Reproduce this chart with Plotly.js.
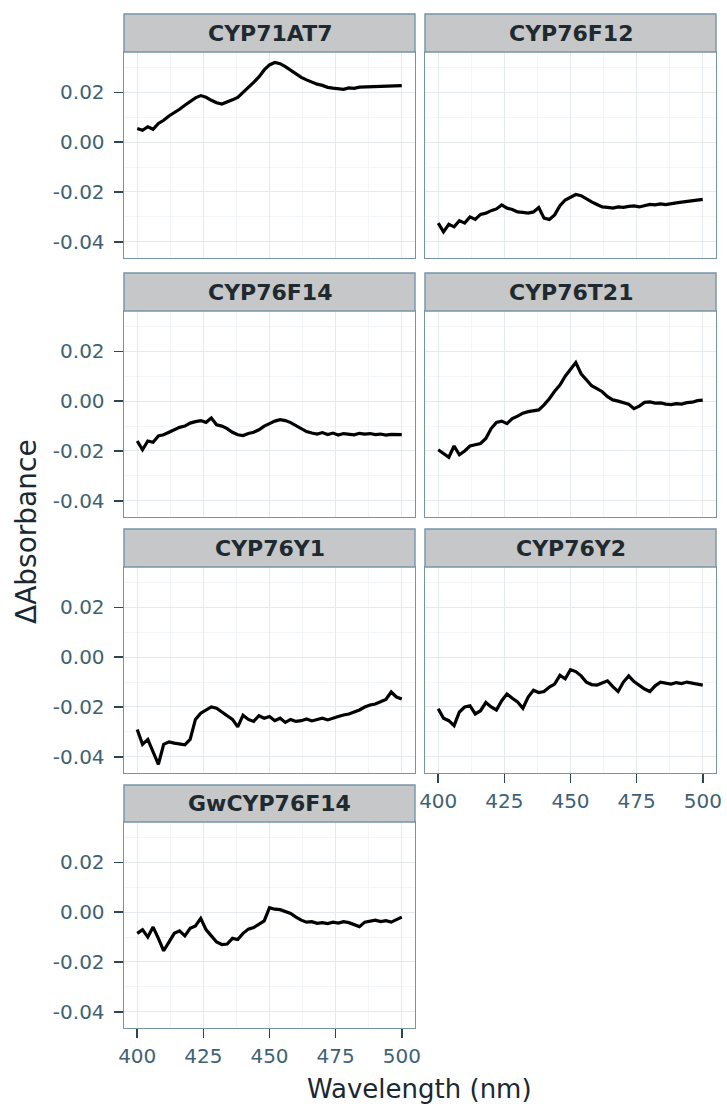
<!DOCTYPE html>
<html>
<head>
<meta charset="utf-8">
<script src="https://cdn.plot.ly/plotly-3.0.1.min.js"></script>
<style>html,body{margin:0;padding:0;background:#fff;}#chart{width:727px;height:1107px;}</style>
</head>
<body>
<div id="chart"></div>
<script>
// ---- data ----
const panelNames = ["CYP71AT7", "CYP76F12", "CYP76F14", "CYP76T21", "CYP76Y1", "CYP76Y2", "GwCYP76F14"];

const wavelength = [400,402,404,406,408,410,412,414,416,418,420,422,424,426,428,430,432,434,436,438,440,442,444,446,448,450,452,454,456,458,460,462,464,466,468,470,472,474,476,478,480,482,484,486,488,490,492,494,496,498,500];

const cyp71at7 = [0.0055,0.0048,0.0062,0.0052,0.0075,0.0088,0.0105,0.0118,0.0132,0.0148,0.0165,0.0178,0.0187,0.0180,0.0168,0.0158,0.0153,0.0160,0.0170,0.0180,0.0198,0.0220,0.0240,0.0262,0.0290,0.0310,0.0320,0.0315,0.0303,0.0288,0.0272,0.0260,0.0250,0.0240,0.0233,0.0228,0.0220,0.0217,0.0214,0.0212,0.0218,0.0216,0.0221,0.0222,0.0223,0.0225,0.0224,0.0226,0.0225,0.0227,0.0227];

const cyp76f12 = [-0.0325,-0.0360,-0.0330,-0.0340,-0.0315,-0.0325,-0.0300,-0.0310,-0.0290,-0.0285,-0.0275,-0.0268,-0.0252,-0.0265,-0.0270,-0.0280,-0.0282,-0.0285,-0.0280,-0.0262,-0.0305,-0.0310,-0.0292,-0.0255,-0.0232,-0.0220,-0.0210,-0.0215,-0.0228,-0.0240,-0.0250,-0.0260,-0.0262,-0.0265,-0.0260,-0.0262,-0.0258,-0.0256,-0.0260,-0.0254,-0.0250,-0.0252,-0.0248,-0.0251,-0.0246,-0.0244,-0.0241,-0.0239,-0.0236,-0.0232,-0.0230];

const cyp76f14 = [-0.0160,-0.0195,-0.0160,-0.0165,-0.0140,-0.0135,-0.0125,-0.0115,-0.0105,-0.0100,-0.0088,-0.0082,-0.0078,-0.0085,-0.0068,-0.0095,-0.0100,-0.0110,-0.0125,-0.0135,-0.0138,-0.0130,-0.0125,-0.0115,-0.0100,-0.0090,-0.0080,-0.0074,-0.0078,-0.0086,-0.0098,-0.0112,-0.0122,-0.0128,-0.0132,-0.0126,-0.0134,-0.0128,-0.0136,-0.0130,-0.0133,-0.0135,-0.0129,-0.0132,-0.0130,-0.0134,-0.0132,-0.0136,-0.0133,-0.0135,-0.0134];

const cyp76t21 = [-0.0195,-0.0210,-0.0225,-0.0180,-0.0215,-0.0200,-0.0180,-0.0175,-0.0170,-0.0150,-0.0110,-0.0085,-0.0080,-0.0090,-0.0070,-0.0060,-0.0048,-0.0042,-0.0040,-0.0035,-0.0015,0.0010,0.0040,0.0065,0.0100,0.0130,0.0155,0.0110,0.0085,0.0062,0.0050,0.0038,0.0018,0.0005,0.0000,-0.0005,-0.0012,-0.0030,-0.0020,-0.0005,-0.0003,-0.0008,-0.0007,-0.0012,-0.0014,-0.0010,-0.0012,-0.0006,-0.0004,0.0002,0.0004];

const cyp76y1 = [-0.0290,-0.0350,-0.0330,-0.0380,-0.0430,-0.0350,-0.0340,-0.0345,-0.0350,-0.0352,-0.0330,-0.0250,-0.0225,-0.0213,-0.0200,-0.0205,-0.0222,-0.0235,-0.0250,-0.0280,-0.0233,-0.0250,-0.0258,-0.0235,-0.0245,-0.0238,-0.0255,-0.0245,-0.0262,-0.0250,-0.0258,-0.0255,-0.0248,-0.0256,-0.0250,-0.0245,-0.0252,-0.0244,-0.0238,-0.0232,-0.0228,-0.0220,-0.0212,-0.0200,-0.0192,-0.0188,-0.0178,-0.0170,-0.0140,-0.0160,-0.0168];

const cyp76y2 = [-0.0207,-0.0245,-0.0255,-0.0275,-0.0220,-0.0200,-0.0195,-0.0228,-0.0215,-0.0182,-0.0200,-0.0212,-0.0175,-0.0148,-0.0165,-0.0180,-0.0205,-0.0160,-0.0133,-0.0142,-0.0138,-0.0120,-0.0108,-0.0073,-0.0087,-0.0050,-0.0058,-0.0075,-0.0100,-0.0110,-0.0112,-0.0105,-0.0095,-0.0118,-0.0138,-0.0100,-0.0075,-0.0098,-0.0112,-0.0128,-0.0138,-0.0115,-0.0100,-0.0105,-0.0108,-0.0102,-0.0106,-0.0100,-0.0104,-0.0108,-0.0112];

const gwcyp76f14 = [-0.0085,-0.0070,-0.0100,-0.0060,-0.0105,-0.0155,-0.0120,-0.0085,-0.0075,-0.0095,-0.0065,-0.0055,-0.0025,-0.0070,-0.0095,-0.0120,-0.0130,-0.0128,-0.0105,-0.0110,-0.0085,-0.0068,-0.0062,-0.0050,-0.0035,0.0018,0.0012,0.0010,0.0003,-0.0005,-0.0020,-0.0032,-0.0040,-0.0038,-0.0045,-0.0042,-0.0046,-0.0040,-0.0044,-0.0038,-0.0042,-0.0050,-0.0058,-0.0040,-0.0035,-0.0032,-0.0038,-0.0034,-0.0040,-0.0030,-0.0020];

const xTickVals = [400, 425, 450, 475, 500];
const xTickText = ["400", "425", "450", "475", "500"];
const yTickVals = [-0.04, -0.02, 0.00, 0.02];
const yTickText = ["-0.04", "-0.02", "0.00", "0.02"];

const seriesValues = [cyp71at7, cyp76f12, cyp76f14, cyp76t21, cyp76y1, cyp76y2, gwcyp76f14];

// ---- layout geometry (pixels) ----
const W = 727, H = 1107;
const cols = [[124, 415], [425, 716]];
const panelRows = [[52, 258], [311, 517], [567, 773], [822, 1028]];
const stripRows = [[14, 52], [273, 311], [529, 567], [785, 822]];
const placement = [[0,0],[1,0],[0,1],[1,1],[0,2],[1,2],[0,3]];
const bottomPanels = [5, 6];   // panels with x tick labels (0-based)
const leftPanels = [0, 2, 4, 6];

const FONT = "DejaVu Sans, Liberation Sans, Arial, sans-serif";
const borderCol = "#7595a6";
const tickTextCol = "#3f6273";
const titleCol = "#1a2831";

const px = v => v / W;
const py = v => 1 - v / H;

const data = [];
const layout = {
  width: W, height: H,
  margin: {l: 0, r: 0, t: 0, b: 0},
  paper_bgcolor: "#ffffff",
  plot_bgcolor: "#ffffff",
  showlegend: false,
  font: {family: FONT, color: tickTextCol},
  shapes: [],
  annotations: []
};

panelNames.forEach((name, i) => {
  const [c, r] = placement[i];
  const xa = i === 0 ? "xaxis" : "xaxis" + (i + 1);
  const ya = i === 0 ? "yaxis" : "yaxis" + (i + 1);
  const xr = i === 0 ? "x" : "x" + (i + 1);
  const yr = i === 0 ? "y" : "y" + (i + 1);

  data.push({
    type: "scatter", mode: "lines",
    x: wavelength, y: seriesValues[i],
    xaxis: xr, yaxis: yr,
    line: {color: "#000000", width: 3.2},
    hoverinfo: "skip"
  });

  const showX = bottomPanels.includes(i);
  const showY = leftPanels.includes(i);

  layout[xa] = {
    domain: [px(cols[c][0]), px(cols[c][1])],
    anchor: yr,
    range: [395, 505],
    tickvals: xTickVals, ticktext: xTickText,
    showticklabels: showX,
    ticks: showX ? "outside" : "",
    ticklen: 9, tickwidth: 1.6, tickcolor: "#2f4450",
    ticklabelstandoff: 1,
    tickfont: {family: FONT, size: 20, color: tickTextCol},
    showgrid: true, gridcolor: "#e4eaee", gridwidth: 1,
    minor: {dtick: 12.5, tick0: 400, showgrid: true, gridcolor: "#f3f6f8", gridwidth: 1},
    zeroline: false,
    showline: true, linecolor: borderCol, linewidth: 1.4, mirror: true,
    fixedrange: true
  };
  layout[ya] = {
    domain: [py(panelRows[r][1]), py(panelRows[r][0])],
    anchor: xr,
    range: [-0.0465, 0.0362],
    tickvals: yTickVals, ticktext: yTickText,
    showticklabels: showY,
    ticks: showY ? "outside" : "",
    ticklen: 9, tickwidth: 1.6, tickcolor: "#2f4450",
    ticklabelstandoff: 5,
    tickfont: {family: FONT, size: 20, color: tickTextCol},
    showgrid: true, gridcolor: "#e4eaee", gridwidth: 1,
    minor: {dtick: 0.01, tick0: 0, showgrid: true, gridcolor: "#f3f6f8", gridwidth: 1},
    zeroline: false,
    showline: true, linecolor: borderCol, linewidth: 1.4, mirror: true,
    fixedrange: true
  };

  // strip
  layout.shapes.push({
    type: "rect", xref: "paper", yref: "paper",
    x0: px(cols[c][0]), x1: px(cols[c][1]),
    y0: py(stripRows[r][1]), y1: py(stripRows[r][0]),
    fillcolor: "#c5c7c8", line: {color: borderCol, width: 1.4}
  });
  layout.annotations.push({
    xref: "paper", yref: "paper",
    x: px((cols[c][0] + cols[c][1]) / 2),
    y: py((stripRows[r][0] + stripRows[r][1]) / 2),
    text: "<b>" + name + "</b>", showarrow: false,
    xanchor: "center", yanchor: "middle",
    font: {family: FONT, size: 22, color: "#1f2a30"}
  });
});

layout.annotations.push({
  xref: "paper", yref: "paper",
  x: px(419), y: py(1089),
  text: "Wavelength (nm)", showarrow: false,
  xanchor: "center", yanchor: "middle",
  font: {family: FONT, size: 26, color: titleCol}
});
layout.annotations.push({
  xref: "paper", yref: "paper",
  x: px(26), y: py(532),
  text: "ΔAbsorbance", showarrow: false, textangle: -90,
  xanchor: "center", yanchor: "middle",
  font: {family: FONT, size: 28, color: titleCol}
});

Plotly.newPlot("chart", data, layout, {displayModeBar: false, staticPlot: true});
</script>
</body>
</html>
